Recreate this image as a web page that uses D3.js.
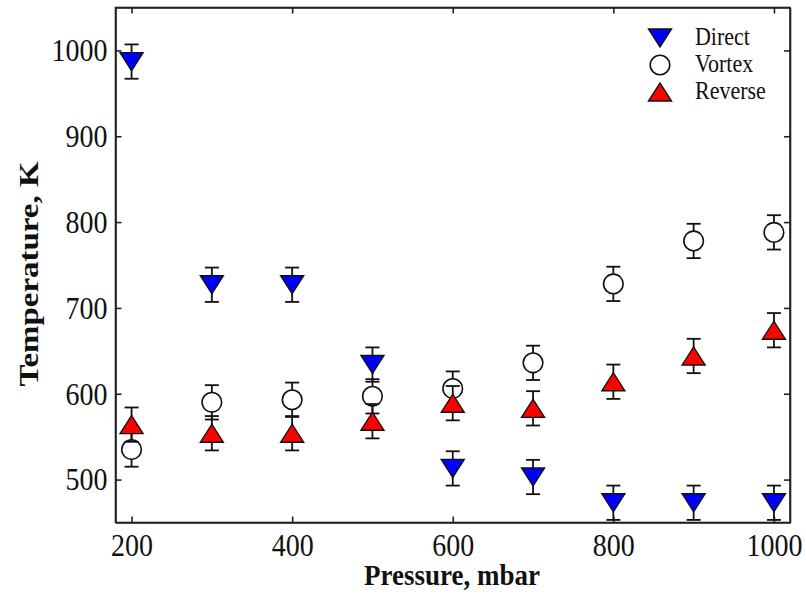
<html><head>
<title>Temperature vs pressure</title>
<script src="https://d3js.org/d3.v7.min.js"></script>
<style>
  body { margin: 0; background: #fff; }
  svg text { font-family: 'Liberation Serif', 'DejaVu Serif', serif !important; fill: #111; }
  .axis path, .axis line { stroke: #222; stroke-width: 1.6; }
</style>
</head>
<body>
<svg id="chart" width="806" height="595"></svg>
<script>

  // Values
  const pressures = [200, 300, 400, 500, 600, 700, 800, 900, 1000];
  const directT  = [987, 727, 727, 634, 513, 503, 473, 473, 473];
  const vortexT  = [535, 590, 593, 597, 606, 636, 728, 778, 788];
  const reverseT = [564, 554, 554, 568, 589, 583, 614, 644, 674];
  const directErr  = [20, 20, 20, 20, 20, 20, 20, 20, 20];
  const vortexErr  = [20, 20, 20, 20, 20, 20, 20, 20, 20];
  const reverseErr = [20, 20, 20, 20, 20, 20, 20, 20, 20];
  const xTicks = [200, 400, 600, 800, 1000];
  const yTicks = [500, 600, 700, 800, 900, 1000];
  const seriesNames = ["Direct", "Vortex", "Reverse"];

  const serif = "'Liberation Serif', 'DejaVu Serif', serif";
  let svg = d3.select("#chart");
  let plotLeft = 115.5, plotRight = 790, plotTop = 7.5, plotBottom = 522.5;

  const x = d3.scaleLinear().domain([180, 1020]).range([plotLeft, plotRight]);
  const y = d3.scaleLinear().domain([450, 1050]).range([plotBottom, plotTop]);

  // marker shapes (sizes in px)
  const triW = 23, triH = 18;
  const downTri = `M${-triW/2},${-triH/2}L${triW/2},${-triH/2}L0,${triH/2}Z`;
  const upTri = `M${-triW/2},${triH/2}L${triW/2},${triH/2}L0,${-triH/2}Z`;

  const series = [
    {name: "Direct", vals: directT, err: directErr, shape: "down", fill: "#0000ff"},
    {name: "Vortex", vals: vortexT, err: vortexErr, shape: "circle", fill: "#ffffff"},
    {name: "Reverse", vals: reverseT, err: reverseErr, shape: "up", fill: "#ff0000"}
  ];

  function drawMarker(g, shape, fill) {
    if (shape == "circle") {
      g.append("circle").attr("r", 9.8).attr("fill", fill)
       .attr("stroke", "#111").attr("stroke-width", 1.6);
    } else {
      g.append("path").attr("d", shape == "down" ? downTri : upTri)
       .attr("fill", fill).attr("stroke", "#111").attr("stroke-width", 1.4);
    }
  }

  // Axes: ticks point inward on all four sides
  let xAxis = svg.append("g").attr("class", "axis")
                 .attr("transform", "translate(0," + plotBottom + ")")
                 .call(d3.axisBottom(x).tickValues(xTicks).tickSize(-6).tickSizeOuter(0).tickFormat(d3.format("d")));
  xAxis.attr("font-family", serif);
  xAxis.selectAll("text")
       .attr("y", 33.5 / 1.12).attr("dy", 0)
       .attr("transform", "scale(1,1.12)")
       .style("font-family", serif)
       .style("font-size", "28px");

  let yAxis = svg.append("g").attr("class", "axis")
                 .attr("transform", "translate(" + plotLeft + ",0)")
                 .call(d3.axisLeft(y).tickValues(yTicks).tickSize(-6).tickSizeOuter(0).tickPadding(8).tickFormat(d3.format("d")));
  yAxis.attr("font-family", serif);
  yAxis.selectAll("text")
       .attr("dy", "0.33em")
       .attr("transform", "scale(1,1.12)")
       .attr("y", 0)
       .style("font-family", serif)
       .style("font-size", "28px");

  svg.append("g").attr("class", "axis")
     .attr("transform", "translate(0," + plotTop + ")")
     .call(d3.axisTop(x).tickValues(xTicks).tickSize(-6).tickSizeOuter(0).tickFormat(""));
  svg.append("g").attr("class", "axis")
     .attr("transform", "translate(" + plotRight + ",0)")
     .call(d3.axisRight(y).tickValues(yTicks).tickSize(-6).tickSizeOuter(0).tickFormat(""));

  // frame
  svg.append("rect").attr("x", plotLeft).attr("y", plotTop)
     .attr("width", plotRight - plotLeft).attr("height", plotBottom - plotTop)
     .attr("fill", "none").attr("stroke", "#222").attr("stroke-width", 1.6);

  // Error bars + markers
  const capW = 7;
  series.forEach(s => {
    let layer = svg.append("g");
    let pts = pressures.map((p, i) => ({p: p, t: s.vals[i], e: s.err[i]}));

    let bars = layer.selectAll("g.err").data(pts).join("g").attr("class", "err")
                    .attr("stroke", "#111").attr("stroke-width", 1.8);
    bars.append("line")
        .attr("x1", d => x(d.p)).attr("x2", d => x(d.p))
        .attr("y1", d => y(d.t - d.e)).attr("y2", d => y(d.t + d.e));
    bars.append("line")
        .attr("x1", d => x(d.p) - capW).attr("x2", d => x(d.p) + capW)
        .attr("y1", d => y(d.t + d.e)).attr("y2", d => y(d.t + d.e));
    bars.append("line")
        .attr("x1", d => x(d.p) - capW).attr("x2", d => x(d.p) + capW)
        .attr("y1", d => y(d.t - d.e)).attr("y2", d => y(d.t - d.e));

    layer.selectAll("g.mk").data(pts).join("g").attr("class", "mk")
         .attr("transform", d => "translate(" + x(d.p) + "," + y(d.t) + ")")
         .each(function() { drawMarker(d3.select(this), s.shape, s.fill); });
  });

  // Legend
  let legend = svg.append("g");
  series.forEach((s, i) => {
    let row = legend.append("g").attr("transform", "translate(660," + (38 + i * 27) + ")");
    drawMarker(row, s.shape, s.fill);
    row.append("text").attr("x", 35).attr("y", 7 / 1.1)
       .attr("transform", "scale(1,1.1)")
       .style("font-family", serif)
       .style("font-size", "22px").text(seriesNames[i]);
  });

  // Axis titles
  svg.append("text")
     .attr("transform", "translate(452,585) scale(1,1.1)")
     .attr("text-anchor", "middle").style("font-family", serif)
     .style("font-size", "27px").style("font-weight", "bold")
     .text("Pressure, mbar");
  svg.append("text")
     .attr("transform", "translate(38,274) rotate(-90) scale(1.22,1)")
     .attr("text-anchor", "middle").style("font-family", serif)
     .style("font-size", "27px").style("font-weight", "bold")
     .text("Temperature, K");

</script>
</body>
</html>
